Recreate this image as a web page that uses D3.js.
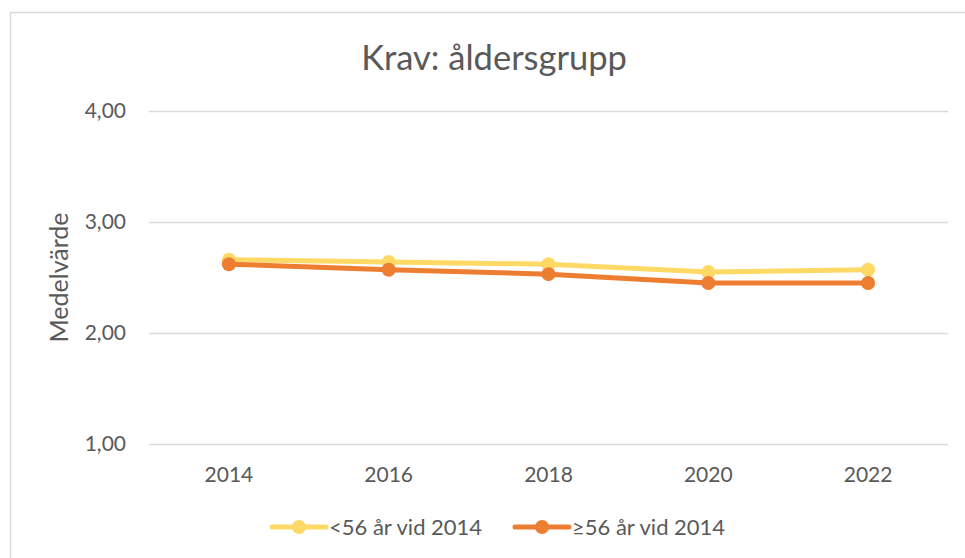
<!DOCTYPE html>
<html>
<head>
<meta charset="utf-8">
<script src="https://cdn.jsdelivr.net/npm/d3@7"></script>
<style>
  body { margin: 0; background: #fff; }
  text { font-family: Lato, "Open Sans", sans-serif; fill: #595959; }
</style>
</head>
<body>
<div id="chart"></div>
<script>
const years = ["2014", "2016", "2018", "2020", "2022"];
const youngValues = [2.66, 2.64, 2.62, 2.55, 2.57];
const oldValues = [2.62, 2.57, 2.53, 2.45, 2.45];
const yTicks = [1, 2, 3, 4];
const seriesNames = ["<56 år vid 2014", "≥56 år vid 2014"];
const seriesColors = ["#FFD966", "#ED7D31"];

const width = 965, height = 558;
const margin = { top: 111, right: 17, bottom: 114, left: 149 };

const svg = d3.select("#chart").append("svg")
    .attr("width", width)
    .attr("height", height);

// chart frame
svg.append("rect")
    .attr("x", 10.5).attr("y", 12.5)
    .attr("width", 1000).attr("height", 600)
    .attr("fill", "none")
    .attr("stroke", "#d9d9d9")
    .attr("stroke-width", 1.5);

const x = d3.scaleBand()
    .domain(years)
    .range([margin.left, width - margin.right]);

const y = d3.scaleLinear()
    .domain([1, 4])
    .range([height - margin.bottom, margin.top]);

// gridlines
svg.append("g")
    .selectAll("line")
    .data(yTicks)
    .enter()
    .append("line")
    .attr("x1", margin.left)
    .attr("x2", width - margin.right)
    .attr("y1", function (d) { return Math.round(y(d)) + 0.5; })
    .attr("y2", function (d) { return Math.round(y(d)) + 0.5; })
    .attr("stroke", "#d9d9d9")
    .attr("stroke-width", 1.5);

// y tick labels
const fmt = function (d) { return d3.format(".2f")(d).replace(".", ","); };
svg.append("g")
    .selectAll("text")
    .data(yTicks)
    .enter()
    .append("text")
    .attr("x", 126)
    .attr("y", function (d) { return y(d); })
    .attr("dy", "0.35em")
    .attr("text-anchor", "end")
    .attr("font-size", "21px")
    .text(fmt);

// x tick labels
svg.append("g")
    .selectAll("text")
    .data(years)
    .enter()
    .append("text")
    .attr("x", function (d) { return x(d) + x.bandwidth() / 2; })
    .attr("y", 482)
    .attr("text-anchor", "middle")
    .attr("font-size", "21px")
    .text(function (d) { return d; });

// title
svg.append("text")
    .attr("x", 494)
    .attr("y", 70)
    .attr("text-anchor", "middle")
    .attr("font-size", "34.5px")
    .text("Krav: åldersgrupp");

// y axis title
svg.append("text")
    .attr("transform", "translate(68," + y(2.5) + ") rotate(-90)")
    .attr("text-anchor", "middle")
    .attr("font-size", "25px")
    .text("Medelvärde");

const line = d3.line()
    .x(function (d, i) { return x(years[i]) + x.bandwidth() / 2; })
    .y(function (d) { return y(d); });

[youngValues, oldValues].forEach(function (vals, s) {
    const g = svg.append("g");
    g.append("path")
        .datum(vals)
        .attr("d", line)
        .attr("fill", "none")
        .attr("stroke", seriesColors[s])
        .attr("stroke-width", 5)
        .attr("stroke-linejoin", "round");
    g.selectAll("circle")
        .data(vals)
        .enter()
        .append("circle")
        .attr("cx", function (d, i) { return x(years[i]) + x.bandwidth() / 2; })
        .attr("cy", function (d) { return y(d); })
        .attr("r", 7)
        .attr("fill", seriesColors[s]);
});

// legend
const legendX = [272, 515];
const legend = svg.append("g")
    .selectAll("g")
    .data(seriesNames)
    .enter()
    .append("g")
    .attr("transform", function (d, i) { return "translate(" + legendX[i] + ",527)"; });

legend.append("line")
    .attr("x1", 0).attr("x2", 54)
    .attr("stroke", function (d, i) { return seriesColors[i]; })
    .attr("stroke-width", 5)
    .attr("stroke-linecap", "round");
legend.append("circle")
    .attr("cx", 27)
    .attr("r", 7)
    .attr("fill", function (d, i) { return seriesColors[i]; });
legend.append("text")
    .attr("x", 57)
    .attr("dy", "0.35em")
    .attr("font-size", "22px")
    .text(function (d) { return d; });
</script>
</body>
</html>
